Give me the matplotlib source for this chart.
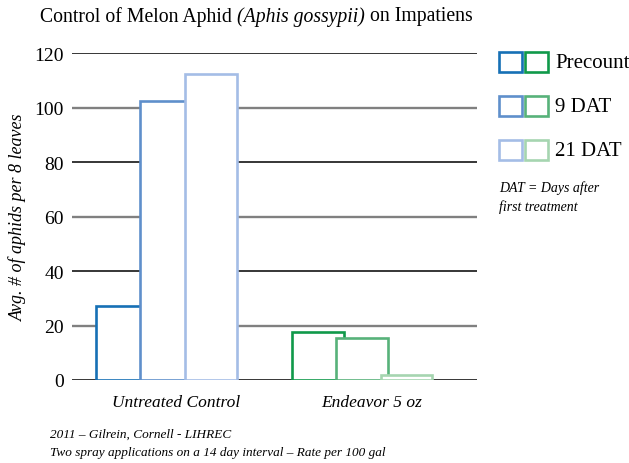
import matplotlib
matplotlib.use("Agg")
import matplotlib.pyplot as plt
from matplotlib.patches import Rectangle
import numpy as np

plt.rcParams['font.family'] = ['Liberation Serif', 'DejaVu Serif']

categories = ["Untreated Control", "Endeavor 5 oz"]
series = ["Precount", "9 DAT", "21 DAT"]
values = {
    "Precount": [27.3, 17.5],
    "9 DAT": [102.3, 15.3],
    "21 DAT": [112.3, 1.9],
}
blue_colors = ["#1670b5", "#5f8fcb", "#a4bde6"]
green_colors = ["#10994a", "#57b27a", "#a6d5b0"]
yticks = [0, 20, 40, 60, 80, 100, 120]

fig = plt.figure(figsize=(6.29, 4.64), dpi=100)
ax = fig.add_axes([72/629, 83/464, 405/629, (381-54.3)/464])
ax.set_xlim(-0.482, 1.587)
ax.set_ylim(0, 120)

for t in yticks:
    col = "#000000" if (t // 20) % 2 == 0 else "#808080"
    ax.axhline(t, color=col, lw=1.1 if col == "#000000" else 1.7, zorder=0)

x = np.arange(len(categories))
width = 0.265
offset = 0.227
for i, s in enumerate(series):
    for j in range(len(categories)):
        col = blue_colors[i] if j == 0 else green_colors[i]
        ax.bar(x[j] + (i - 1) * offset, values[s][j], width=width,
               facecolor="white", edgecolor=col, linewidth=1.9, zorder=2 + i)

for sp in ax.spines.values():
    sp.set_visible(False)
ax.set_yticks(yticks)
ax.set_yticklabels([str(t) for t in yticks], fontsize=14)
ax.tick_params(axis='y', length=0, pad=6)
ax.set_xticks(x + 0.05)
ax.set_xticklabels(categories, fontsize=12.5, style='italic')
ax.tick_params(axis='x', length=0, pad=10)
ax.set_ylabel("Avg. # of aphids per 8 leaves", fontsize=13, style='italic', labelpad=5)

ty = 1 - 17 / 464
t1 = fig.text(40 / 629, ty, "Control of Melon Aphid ", ha='left', va='center', fontsize=14.2)
fig.canvas.draw()
bb = t1.get_window_extent()
t_it = fig.text(bb.x1 / 629, ty, "(Aphis gossypii)", ha='left', va='center', fontsize=14.2, style='italic')
fig.canvas.draw()
bb = t_it.get_window_extent()
fig.text(bb.x1 / 629, ty, " on Impatiens", ha='left', va='center', fontsize=14.2)

rows_y = [53, 97, 141]
for i, s in enumerate(series):
    y0 = rows_y[i]
    for k, col in enumerate([blue_colors[i], green_colors[i]]):
        x0 = 499 + k * 25.5
        r = Rectangle((x0 / 629, 1 - (y0 + 20) / 464), 23 / 629, 20 / 464,
                      transform=fig.transFigure, facecolor="white", edgecolor=col,
                      linewidth=1.9)
        fig.add_artist(r)
    fig.text(555 / 629, 1 - (y0 + 10) / 464, s, ha='left', va='center', fontsize=15)

fig.text(499 / 629, 1 - 188 / 464, "DAT = Days after", ha='left', va='center', fontsize=10, style='italic')
fig.text(499 / 629, 1 - 207 / 464, "first treatment", ha='left', va='center', fontsize=10, style='italic')

fig.text(50 / 629, 1 - 435 / 464, "2011 \u2013 Gilrein, Cornell - LIHREC", ha='left', va='center', fontsize=9.5, style='italic')
fig.text(50 / 629, 1 - 453 / 464, "Two spray applications on a 14 day interval \u2013 Rate per 100 gal", ha='left', va='center', fontsize=9.5, style='italic')

fig.savefig("out.png", dpi=100)
